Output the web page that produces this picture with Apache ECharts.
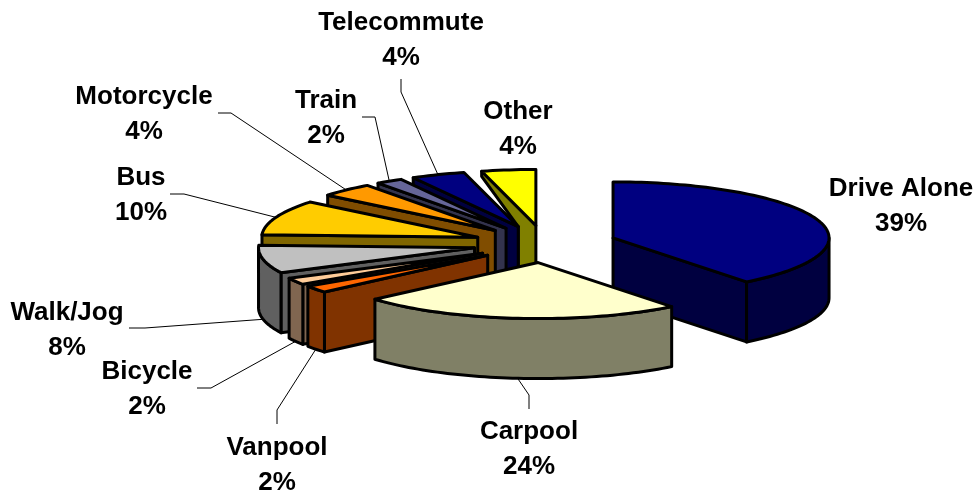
<!DOCTYPE html>
<html>
<head>
<meta charset="utf-8">
<style>html,body{margin:0;padding:0;background:#fff}#c{width:977px;height:492px}</style>
<script src="https://cdn.jsdelivr.net/npm/echarts@6/dist/echarts.min.js"></script>
</head>
<body>
<div id="c"></div>
<script>
// data, clockwise from 12 o'clock
const categories = ['Drive Alone','Carpool','Vanpool','Bicycle','Walk/Jog','Bus','Motorcycle','Train','Telecommute','Other'];
const shares = [39,24,2,2,8,10,4,2,4,4];
const tickLabels = ['39%','24%','2%','2%','8%','10%','4%','2%','4%','4%'];

// styles
const topColors  = ['#000080','#FFFFCC','#FF6600','#FFCC99','#C0C0C0','#FFCC00','#FF9900','#666699','#000080','#FFFF00'];
const wallColors = ['#000040','#808066','#803300','#806650','#606060','#806600','#804D00','#33334D','#000040','#808000'];
const paintOrder = [0,9,8,7,6,5,4,3,2,1];

// layout of the tilted pie
const CX = 545, CY = 244, RX = 216, RY = 56, WALL = 60, EXPLODE = 72;
// label centres (first line y) and leader elbows
const labelX = [901,529,277,147,67,141,144,326,401,518];
const labelY = [189,432,448,372,313,178,97,101,23,112];
const LINE = 35;
const leaderFrom = [null,[529,409],[277,424],[197,388],[129,328],[170,194],[218,113],[362,117],[401,79],null];
const leaderElbow = [null,[529,395],[277,410],[211,388],[145,328],[184,194],[231,113],[375,117],[401,92],null];

const total = shares.reduce((a,b)=>a+b,0);
const rad = d => d*Math.PI/180;
const slices = [];
let acc = 0;
shares.forEach(v=>{
  const a0 = acc/total*360; acc += v; const a1 = acc/total*360; const mid=(a0+a1)/2;
  slices.push({a0,a1,mid,
    ax: CX + EXPLODE*Math.sin(rad(mid)),
    ay: CY - EXPLODE*RY/RX*Math.cos(rad(mid))});
});
const rimPt = (s,a,h=0)=>[s.ax+RX*Math.sin(rad(a)), s.ay-RY*Math.cos(rad(a))+h];
const stroke = {stroke:'#000',lineWidth:3,lineJoin:'round'};
const poly = (pts,fill)=>({type:'polygon',shape:{points:pts},style:Object.assign({fill},stroke)});

function faceIsVisible(a,isStart){
  // outward normal of the cut face, y pointing to the viewer
  const ny = isStart ? -Math.sin(rad(a)) : Math.sin(rad(a));
  return ny > 0.001;
}
function sliceGroup(i){
  const s = slices[i], ch=[];
  const wall = wallColors[i];
  const apex=[s.ax,s.ay], apexB=[s.ax,s.ay+WALL];
  if(i===slices.length-1){
    // the last slice's cut face narrows to the neighbouring slice's inner corner
    const n=slices[i-1], r=rimPt(s,s.a0);
    ch.push(poly([apex,r,[r[0],r[1]+5],[n.ax,n.ay],[n.ax,n.ay+WALL],apexB],wall));
  } else if(faceIsVisible(s.a0,true)) ch.push(poly([apex,rimPt(s,s.a0),rimPt(s,s.a0,WALL),apexB],wall));
  if(faceIsVisible(s.a1,false)) ch.push(poly([apex,rimPt(s,s.a1),rimPt(s,s.a1,WALL),apexB],wall));
  // outer wall, front half only
  const w0=Math.max(s.a0,90), w1=Math.min(s.a1,270);
  if(w1>w0){
    const up=[],down=[];
    for(let a=w0;a<w1;a+=1.5){up.push(rimPt(s,a));down.unshift(rimPt(s,a,WALL));}
    up.push(rimPt(s,w1));down.unshift(rimPt(s,w1,WALL));
    ch.push(poly(up.concat(down),wall));
  }
  const top=[apex];
  for(let a=s.a0;a<s.a1;a+=1.5) top.push(rimPt(s,a));
  top.push(rimPt(s,s.a1));
  ch.push(poly(top,topColors[i]));
  return {type:'group',children:ch};
}
function leaderGroup(i){
  if(!leaderFrom[i]) return {type:'group',children:[]};
  const s=slices[i];
  const front = s.mid>90 && s.mid<270;
  const end = rimPt(s,s.mid,front?WALL:0);
  return {type:'polyline',shape:{points:[leaderFrom[i],leaderElbow[i],end]},
          style:{fill:'none',stroke:'#000',lineWidth:1}};
}
function labelGroup(i){
  const font='bold 26px "Liberation Sans", Arial, sans-serif';
  const t=(txt,y)=>({type:'text',style:{text:txt,x:labelX[i],y,align:'center',verticalAlign:'middle',font,fill:'#000'}});
  return {type:'group',children:[t(categories[i],labelY[i]),t(tickLabels[i],labelY[i]+LINE)]};
}

const chart = echarts.init(document.getElementById('c'),null,{renderer:'canvas'});
chart.setOption({
  animation:false,
  backgroundColor:'#fff',
  series:[
    {type:'custom',coordinateSystem:'none',silent:true,z:1,data:categories.map((_,i)=>[i]),
     renderItem:(p,api)=>leaderGroup(api.value(0))},
    {type:'custom',coordinateSystem:'none',silent:true,z:2,data:paintOrder.map(i=>[i]),
     renderItem:(p,api)=>sliceGroup(api.value(0))},
    {type:'custom',coordinateSystem:'none',silent:true,z:3,data:categories.map((_,i)=>[i]),
     renderItem:(p,api)=>labelGroup(api.value(0))}
  ]
});
</script>
</body>
</html>
